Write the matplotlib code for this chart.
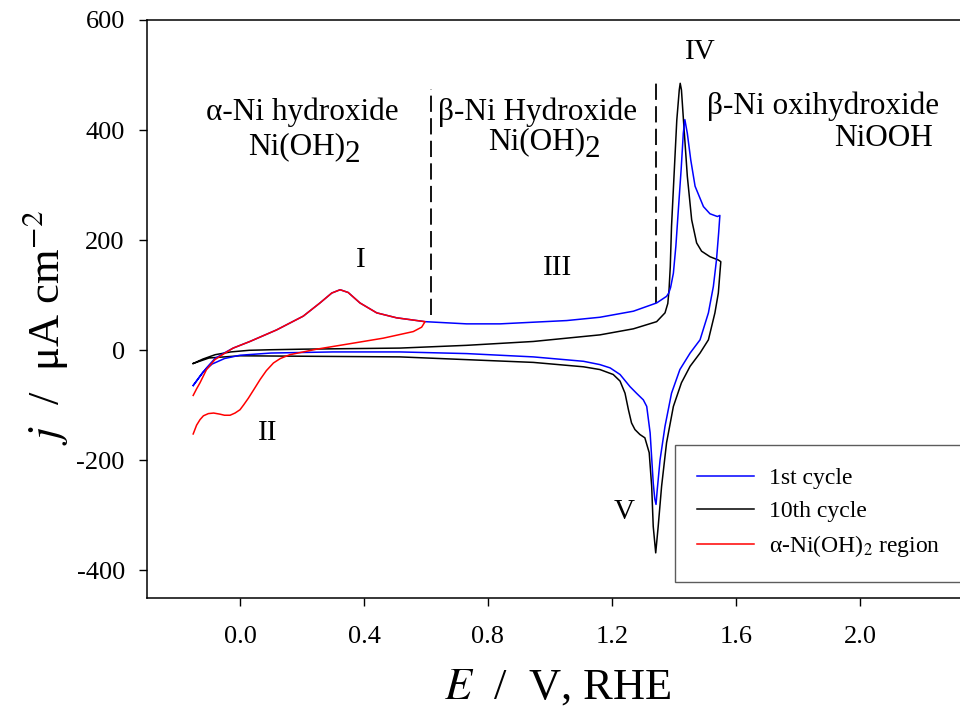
import numpy as np
import matplotlib
matplotlib.use("Agg")
import matplotlib.pyplot as plt

plt.rcParams["font.family"] = ["Liberation Serif", "DejaVu Serif"]
plt.rcParams["mathtext.fontset"] = "stix"
plt.rcParams["axes.unicode_minus"] = False

# ===================== data =====================
# 1st cycle: anodic sweep then cathodic sweep back
cyc1_E = [-0.151, -0.13, -0.108, -0.081, -0.048, -0.022, 0.032, 0.118, 0.204, 0.258,
          0.296, 0.323, 0.349, 0.387, 0.441, 0.505, 0.597, 0.731, 0.839, 0.946,
          1.054, 1.161, 1.269, 1.344, 1.376, 1.383, 1.389, 1.398, 1.406, 1.414,
          1.423, 1.430, 1.435, 1.443, 1.454, 1.468, 1.495, 1.516, 1.540, 1.548,
          1.544, 1.537, 1.527, 1.511, 1.484, 1.452, 1.419, 1.392, 1.371, 1.355,
          1.346, 1.342, 1.338, 1.333, 1.323, 1.312, 1.301, 1.279, 1.258, 1.226,
          1.194, 1.161, 1.108, 0.946, 0.731, 0.516, 0.300, 0.100, 0.000, -0.050,
          -0.090, -0.120, -0.151]
cyc1_j = [-64, -48, -32, -15, -4, 4, 16, 37, 62, 86,
          104, 110, 105, 86, 68, 59, 52, 48, 48, 51,
          54, 60, 71, 86, 98, 104, 114, 140, 189, 255,
          328, 394, 419, 394, 346, 298, 261, 248, 243, 245,
          213, 164, 116, 68, 19, -5, -35, -78, -138, -199,
          -253, -280, -270, -241, -150, -102, -90, -78, -66, -44,
          -32, -26, -20, -12, -6, -3, -3, -5, -9, -15,
          -25, -40, -64]

# 10th cycle
cyc10_E = [-0.151, -0.12, -0.08, -0.03, 0.03, 0.10, 0.20, 0.35, 0.516, 0.731,
           0.946, 1.161, 1.269, 1.344, 1.371, 1.380, 1.384, 1.388, 1.392, 1.400,
           1.409, 1.417, 1.420, 1.424, 1.432, 1.443, 1.457, 1.473, 1.489, 1.516,
           1.543, 1.551, 1.548, 1.543, 1.532, 1.511, 1.484, 1.452, 1.424, 1.398,
           1.376, 1.360, 1.349, 1.341, 1.333, 1.328, 1.320, 1.306, 1.290, 1.274,
           1.263, 1.253, 1.242, 1.226, 1.204, 1.161, 1.108, 0.946, 0.731, 0.516,
           0.250, 0.000, -0.100, -0.151]
cyc10_j = [-24, -16, -8, -3, 0, 1, 2, 3, 4, 9,
           16, 28, 39, 52, 68, 85, 110, 152, 225, 316,
           418, 473, 485, 473, 406, 316, 237, 195, 180, 170,
           164, 161, 140, 104, 68, 19, -5, -29, -59, -102,
           -168, -247, -320, -368, -320, -247, -186, -159, -153, -144,
           -132, -108, -78, -56, -44, -35, -30, -22, -17, -12,
           -11, -10, -14, -24]

# alpha-Ni(OH)2 window only
alpha_E = [-0.151, -0.140, -0.129, -0.108, -0.081, -0.048, -0.022, 0.032, 0.118, 0.204,
           0.258, 0.296, 0.323, 0.349, 0.387, 0.441, 0.505, 0.597, 0.586, 0.559,
           0.462, 0.355, 0.247, 0.161, 0.130, 0.108, 0.085, 0.065, 0.045, 0.027,
           0.012, 0.000, -0.016, -0.032, -0.050, -0.065, -0.085, -0.102, -0.118, -0.129,
           -0.140, -0.151]
alpha_j = [-82, -70, -59, -35, -17, -5, 4, 16, 37, 62,
           86, 104, 110, 105, 86, 68, 59, 52, 42, 34,
           22, 12, 2, -8, -15, -23, -37, -53, -71, -87,
           -99, -108, -114, -118, -118, -116, -114, -115, -119, -126,
           -136, -152]

series_labels = ["1st cycle", "10th cycle", "α-Ni(OH)$_2$ region"]
boundaries_E = [0.617, 1.341]
boundaries_top = [475, 490]
boundaries_bottom = [65, 85]
peak_labels = ["I", "II", "III", "IV", "V"]
peak_pos = [(0.39, 164), (0.09, -150), (1.026, 150), (1.484, 542), (1.239, -293)]

# ===================== figure =====================
fig = plt.figure(figsize=(9.6, 7.13), dpi=100)
ax = fig.add_axes([147 / 960, 115 / 713, 837 / 960, 578 / 713])

ax.plot(cyc1_E, cyc1_j, color="#0000ff", lw=1.1, label=series_labels[0], zorder=3)
ax.plot(cyc10_E, cyc10_j, color="black", lw=1.1, label=series_labels[1], zorder=2)
ax.plot(alpha_E, alpha_j, color="#ff0000", lw=1.1, label=series_labels[2], zorder=4)

for xb, yt, yb in zip(boundaries_E, boundaries_top, boundaries_bottom):
    ax.plot([xb, xb], [yb, yt], color="black", lw=1.3, ls=(0, (9, 3.5)))

ax.set_xlim(-0.3, 2.4)
ax.set_ylim(-450, 600)
ax.set_xticks([0.0, 0.4, 0.8, 1.2, 1.6, 2.0])
ax.set_xticklabels(["0.0", "0.4", "0.8", "1.2", "1.6", "2.0"])
ax.set_yticks([-400, -200, 0, 200, 400, 600])
ax.tick_params(axis="x", direction="out", length=6, width=1, labelsize=19, pad=14)
ax.tick_params(axis="y", direction="out", length=6, width=1, labelsize=19, pad=10)
for s in ax.spines.values():
    s.set_linewidth(1.1)

ax.set_xlabel(r"$E$  /  V, RHE", fontsize=32)
ax.xaxis.set_label_coords(558 / 960, 1 - 688 / 713, transform=fig.transFigure)
ax.xaxis.label.set_va("center")
ax.set_ylabel(r"$j$  /  μA cm$^{-2}$", fontsize=32)
ax.yaxis.set_label_coords(45 / 960, 1 - 328 / 713, transform=fig.transFigure)
ax.yaxis.label.set_va("center")

# region labels
fs = 22.5
ax.text(0.202, 433, "α-Ni hydroxide", fontsize=fs, ha="center", va="center")
ax.text(0.339, 369, "Ni(OH)", fontsize=fs, ha="right", va="center")
ax.text(0.339, 356, "2", fontsize=fs, ha="left", va="center")
ax.text(0.96, 433, "β-Ni Hydroxide", fontsize=fs, ha="center", va="center")
ax.text(1.113, 379, "Ni(OH)", fontsize=fs, ha="right", va="center")
ax.text(1.113, 365, "2", fontsize=fs, ha="left", va="center")
ax.text(2.255, 443, "β-Ni oxihydroxide", fontsize=fs, ha="right", va="center")
ax.text(2.235, 385, "NiOOH", fontsize=fs, ha="right", va="center")

for lab, (xe, yj) in zip(peak_labels, peak_pos):
    ax.text(xe, yj, lab, fontsize=21, ha="center", va="center")

leg = ax.legend(loc="upper left", bbox_to_anchor=(675 / 960, 1 - 445 / 713),
                bbox_transform=fig.transFigure, fontsize=17, frameon=True,
                fancybox=False, borderpad=0.95, borderaxespad=0, handlelength=2.4,
                handletextpad=0.65, labelspacing=0.48)
leg.get_frame().set_edgecolor("#333333")
leg.get_frame().set_linewidth(1.0)

fig.savefig("out.png", dpi=100)
